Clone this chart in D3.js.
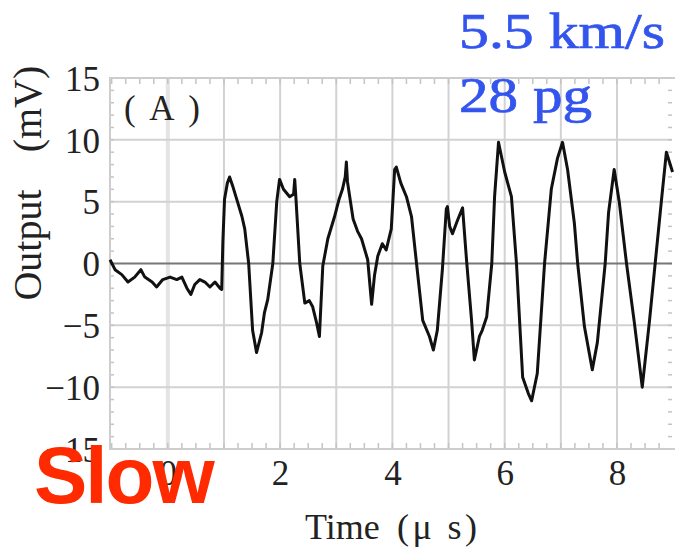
<!DOCTYPE html>
<html>
<head>
<meta charset="utf-8">
<script src="https://cdn.jsdelivr.net/npm/d3@7"></script>
<style>
  body { margin: 0; background: #fff; }
  svg { display: block; }
  .note { font-family: "Liberation Serif", "Times New Roman", serif; font-size: 50px; fill: #3355ee; }
</style>
</head>
<body>
<div id="chart"></div>
<script>
// waveform (time in µs, output in mV)
const times = [
  -1.03, -0.94, -0.82, -0.71, -0.59, -0.48, -0.41, -0.28, -0.20, -0.09,
  0.04, 0.16, 0.25, 0.34, 0.41, 0.48, 0.57, 0.66, 0.75, 0.84, 0.93, 0.96,
  0.98, 1.01, 1.06, 1.10, 1.16, 1.24, 1.32, 1.37, 1.44, 1.51, 1.58, 1.67,
  1.72, 1.78, 1.87, 1.94, 1.99, 2.06, 2.17, 2.24, 2.26, 2.28, 2.35, 2.44,
  2.52, 2.58, 2.65, 2.70, 2.76, 2.85, 2.97, 3.05, 3.11, 3.16, 3.18, 3.20,
  3.30, 3.38, 3.45, 3.56, 3.63, 3.68, 3.74, 3.82, 3.89, 3.98, 4.04, 4.07,
  4.15, 4.25, 4.34, 4.43, 4.54, 4.66, 4.73, 4.80, 4.89, 4.96, 4.98, 5.02,
  5.07, 5.16, 5.25, 5.32, 5.41, 5.46, 5.55, 5.60, 5.68, 5.77, 5.82, 5.89,
  6.00, 6.12, 6.21, 6.32, 6.42, 6.48, 6.58, 6.71, 6.83, 6.94, 7.03, 7.12,
  7.24, 7.30, 7.42, 7.56, 7.65, 7.79, 7.85, 7.95, 8.04, 8.17, 8.31, 8.45,
  8.58, 8.68, 8.79, 8.88, 8.99
];
const output = [
  0.3, -0.5, -0.9, -1.5, -1.1, -0.5, -1.1, -1.5, -1.9, -1.3,
  -1.1, -1.3, -1.1, -2.0, -2.5, -1.7, -1.3, -1.5, -1.9, -1.5, -2.0, -2.1,
  1.7, 5.2, 6.5, 7.0, 6.2, 5.0, 3.8, 2.8, 0, -5.4, -7.2, -5.6,
  -4.0, -2.9, 0, 5.0, 6.8, 6.0, 5.4, 5.6, 6.8, 5.4, 0, -3.2,
  -3.0, -3.5, -4.8, -5.9, -0.2, 2.0, 3.8, 5.2, 6.0, 7.0, 8.2, 6.6,
  3.6, 2.6, 2.0, 0.3, -3.3, -1.0, 0.6, 1.6, 1.1, 2.8, 7.6, 7.8,
  6.5, 5.4, 3.8, 0, -4.6, -5.9, -7.0, -5.4, -0.5, 4.4, 4.6, 3.0,
  2.4, 3.5, 4.5, 0.3, -4.6, -7.8, -5.9, -5.4, -4.3, 0, 5.4, 9.8,
  7.4, 5.4, 0, -9.2, -10.5, -11.1, -8.9, 0, 6.0, 8.5, 9.8, 7.6,
  3.3, 0, -5.1, -8.6, -6.4, 0, 4.1, 7.6, 5.0, 0, -4.8, -10.0,
  -4.6, 0, 5.0, 9.0, 7.4
];
const xTicks = [0, 2, 4, 6, 8];
const yTicks = [-15, -10, -5, 0, 5, 10, 15];
const xGrid = [0, 1, 2, 3, 4, 5, 6, 7, 8];
const yGrid = [-10, -5, 5, 10];
const notes = ["5.5 km/s", "28 pg"];

const W = 675, H = 549;
const pL = 110, pR = 672, pT = 78, pB = 449;
const serif = "'Liberation Serif', serif";

const svg = d3.select("#chart").append("svg")
  .attr("width", W)
  .attr("height", H);

const x = d3.scaleLinear().domain([-1.03, 8.98]).range([pL, pR]);
const y = d3.scaleLinear().domain([-15, 15]).range([pB, pT]);

// grid
svg.append("g").selectAll("line")
  .data(xGrid)
  .join("line")
  .attr("x1", d => x(d)).attr("x2", d => x(d))
  .attr("y1", pT).attr("y2", pB)
  .attr("stroke", d => d === 0 ? "#e4e4e4" : "#d2d2d2")
  .attr("stroke-width", d => d === 0 ? 4 : 2);

svg.append("g").selectAll("line")
  .data(yGrid)
  .join("line")
  .attr("x1", pL).attr("x2", pR)
  .attr("y1", d => y(d)).attr("y2", d => y(d))
  .attr("stroke", "#d2d2d2")
  .attr("stroke-width", 2);

// minor ticks inside the frame
const minorX = d3.range(-4, 36).map(i => i / 4);
const minorY = d3.range(-14, 15);
const ticks = svg.append("g").attr("stroke", "#c4c4c4").attr("stroke-width", 1.5);
ticks.selectAll(".mb").data(minorX).join("line").attr("class", "mb")
  .attr("x1", d => x(d)).attr("x2", d => x(d))
  .attr("y1", pB).attr("y2", pB - 6);
ticks.selectAll(".mt").data(minorX).join("line").attr("class", "mt")
  .attr("x1", d => x(d)).attr("x2", d => x(d))
  .attr("y1", pT).attr("y2", pT + 6);
ticks.selectAll(".ml").data(minorY).join("line").attr("class", "ml")
  .attr("x1", pL).attr("x2", pL + 4)
  .attr("y1", d => y(d)).attr("y2", d => y(d));
ticks.selectAll(".mr").data(minorY).join("line").attr("class", "mr")
  .attr("x1", pR).attr("x2", pR - 4)
  .attr("y1", d => y(d)).attr("y2", d => y(d));

// frame
svg.append("rect")
  .attr("x", pL).attr("y", pT)
  .attr("width", pR - pL + 4).attr("height", pB - pT)
  .attr("fill", "none")
  .attr("stroke", "#cdcdcd")
  .attr("stroke-width", 2);

// zero line
svg.append("line")
  .attr("x1", pL).attr("x2", pR)
  .attr("y1", y(0)).attr("y2", y(0))
  .attr("stroke", "#777")
  .attr("stroke-width", 2);

// waveform
const line = d3.line()
  .x((d, i) => x(times[i]))
  .y(d => y(d));

svg.append("path")
  .datum(output)
  .attr("fill", "none")
  .attr("stroke", "#111")
  .attr("stroke-width", 3)
  .attr("stroke-linejoin", "round")
  .attr("d", line);

// axes labels
const yAxis = svg.append("g")
  .attr("transform", `translate(${pL - 10},0)`)
  .call(d3.axisLeft(y).tickValues(yTicks).tickSize(0).tickPadding(0));
yAxis.select(".domain").remove();
yAxis.selectAll("text")
  .attr("dy", "0.35em")
  .style("font-family", serif)
  .style("font-size", "35px")
  .attr("fill", "#222");

const xAxis = svg.append("g")
  .attr("transform", `translate(0,${pB})`)
  .call(d3.axisBottom(x).tickValues(xTicks).tickSize(0).tickPadding(0));
xAxis.select(".domain").remove();
xAxis.selectAll("text")
  .attr("dy", "0")
  .attr("y", 36)
  .style("font-family", serif)
  .style("font-size", "35px")
  .attr("fill", "#222");

svg.append("text")
  .attr("transform", "translate(41,245) rotate(-90)")
  .attr("text-anchor", "middle")
  .style("font-family", serif)
  .style("font-size", "40px")
  .attr("fill", "#222")
  .text("Output");

svg.append("text")
  .attr("transform", "translate(41,109) rotate(-90)")
  .attr("text-anchor", "middle")
  .style("font-family", serif)
  .style("font-size", "40px")
  .attr("fill", "#222")
  .text("(mV)");

svg.append("text")
  .attr("x", 305)
  .attr("y", 539)
  .style("font-family", serif)
  .style("font-size", "36px")
  .attr("fill", "#222")
  .text("Time");

svg.append("text")
  .attr("x", 397)
  .attr("y", 539)
  .attr("textLength", 80)
  .attr("lengthAdjust", "spacing")
  .style("font-family", serif)
  .style("font-size", "36px")
  .attr("fill", "#222")
  .text("(\u03bc s)");

svg.append("text")
  .attr("x", 124)
  .attr("y", 120)
  .attr("textLength", 76)
  .attr("lengthAdjust", "spacing")
  .style("font-family", serif)
  .style("font-size", "35px")
  .attr("fill", "#222")
  .text("(A)");

// annotations
svg.selectAll(".note")
  .data(notes)
  .join("text")
  .attr("class", "note")
  .attr("x", 459)
  .attr("y", (d, i) => 48 + i * 64)
  .attr("textLength", (d, i) => i === 0 ? 206 : 133)
  .attr("lengthAdjust", "spacingAndGlyphs")
  .attr("stroke", "#3355ee")
  .attr("stroke-width", 0.7)
  .text(d => d);

svg.append("text")
  .attr("x", 34)
  .attr("y", 503)
  .style("font-family", "'Liberation Sans', Arial, sans-serif")
  .style("font-weight", "bold")
  .style("font-size", "80px")
  .style("letter-spacing", "-2px")
  .attr("fill", "#ff2a00")
  .text("Slow");
</script>
</body>
</html>
